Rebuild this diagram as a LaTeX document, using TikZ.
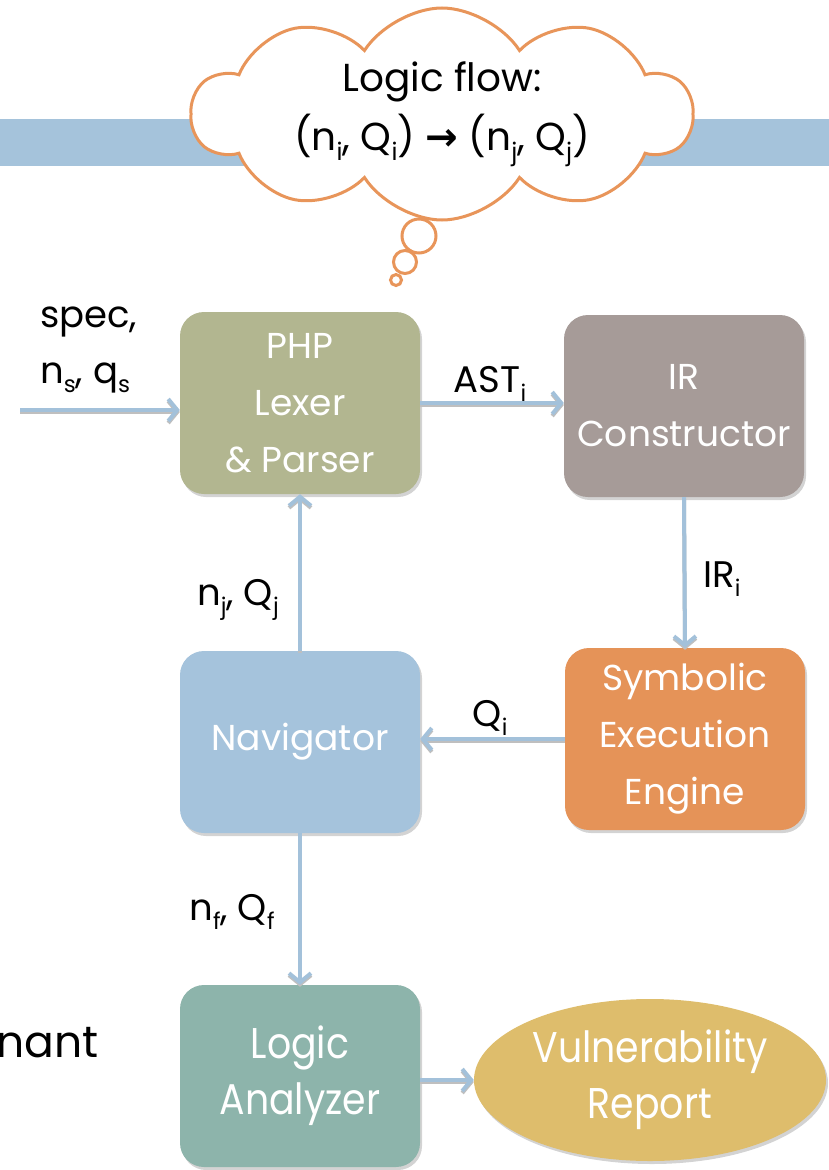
\documentclass[tikz,border=0pt]{standalone}
\usepackage{fontspec}
\setmainfont{Poppins}
\newfontfamily\narrowfont{Poppins}[FakeStretch=0.88]
\newfontfamily\symfont{DejaVu Sans}
\usetikzlibrary{arrows.meta,shapes.symbols,shapes.geometric,shadows}

\definecolor{bandblue}{HTML}{A5C3DB}
\definecolor{flowblue}{HTML}{A3C1DA}
\definecolor{lexolive}{HTML}{B2B690}
\definecolor{irgrey}{HTML}{A69B98}
\definecolor{symorange}{HTML}{E59358}
\definecolor{navblue}{HTML}{A5C3DC}
\definecolor{logicgreen}{HTML}{8DB4AB}
\definecolor{vulnyellow}{HTML}{DEBD6C}
\definecolor{cloudline}{HTML}{E8955A}

\providecommand{\FBbox}{\fontsize{36}{57}\selectfont}
\providecommand{\FBnarrow}{\fontsize{43}{56}\selectfont\narrowfont}
\providecommand{\FBlab}{\fontsize{37}{56}\selectfont}
\providecommand{\FBcloud}{\fontsize{39}{59}\selectfont}
\providecommand{\FBslide}{\fontsize{44}{50}\selectfont}
\providecommand{\low}[1]{\raisebox{-0.45ex}{\scalebox{0.62}{#1}}}

\tikzset{
  stage/.style={rectangle, rounded corners=24pt, draw=none, align=center,
                text=white, font=\FBbox, minimum width=240pt, minimum height=182pt,
                inner sep=2pt,
                drop shadow={opacity=0.35, shadow xshift=2pt, shadow yshift=-3pt}},
  report/.style={ellipse, draw=none, fill=vulnyellow, align=center,
                 text=white, font=\FBnarrow,
                 minimum width=352pt, minimum height=162pt, inner sep=0pt,
                 drop shadow={opacity=0.35, shadow xshift=2pt, shadow yshift=-3pt}},
  flow/.style={draw=flowblue, line width=4pt,
               -{Straight Barb[length=9pt,width=22pt]},
               preaction={draw=black!25, line width=4pt, transform canvas={yshift=-2pt}}},
  lab/.style={font=\FBlab, text=black, align=left, inner sep=0pt},
  thought/.style={circle, draw=cloudline, line width=3pt, fill=white, inner sep=0pt}
}

\begin{document}
\begin{tikzpicture}[x=1pt, y=-1pt]

\useasboundingbox (0,0) rectangle (829,1170);

% slide title band
\fill[bandblue] (0,119) rectangle (829,166);

\node (cloud) [cloud, cloud puffs=10, cloud puff arc=115, aspect=2.5,
      draw=cloudline, line width=3pt, fill=white,
      minimum width=500pt, minimum height=212pt, inner sep=0pt] at (442,114) {};
\node (flowtext) [align=center, font=\FBcloud, inner sep=0pt] at (cloud.center)
      {Logic flow:\\(n\low{i}, Q\low{i}) {\symfont\bfseries →} (n\low{j}, Q\low{j})};

\node (bubA) [thought, minimum size=34pt] at (419,236) {};
\node (bubB) [thought, minimum size=23pt] at (405,262) {};
\node (bubC) [thought, minimum size=11pt] at (396,280) {};

\node (lexer) [stage, fill=lexolive] at (300,403) {PHP\\Lexer\\\& Parser};
\node (irc) [stage, fill=irgrey] at (684,406) {IR\\Constructor};
\node (symex) [stage, fill=symorange] at (685,739) {Symbolic\\Execution\\Engine};
\node (nav) [stage, fill=navblue] at (300,742) {Navigator};
\node (logic) [stage, fill=logicgreen, font=\FBnarrow] at (300,1076) {Logic\\Analyzer};
\node (vuln) [report] at (650,1080) {Vulnerability\\Report};

\coordinate (start) at (20,410);

\node (slide) [font=\FBslide, anchor=east, inner sep=0pt] at (99,1043) {nant};

% input -> lexer
\draw[flow] (start) -- (lexer.west |- start);
\node (inlab) [lab, anchor=west] at (40,350)
      {spec,\\n\low{s}, q\low{s}};

% lexer -> IR -> symbolic execution
\draw[flow] (lexer.east) -- (irc.west |- lexer.east);
\node (astlab) [lab] at (490,384) {AST\low{i}};
\draw[flow] (irc.south) -- (symex.north);
\node (irlab) [lab] at (722,579) {IR\low{i}};

% symbolic execution -> navigator
\draw[flow] (symex.west) -- (nav.east |- symex.west);
\node (qlab) [lab] at (490,718) {Q\low{i}};

% navigator -> lexer, navigator -> analyzer
\draw[flow] (nav.north) -- (lexer.south);
\node (njlab) [lab] at (238,600) {n\low{j}, Q\low{j}};
\draw[flow] (nav.south) -- (logic.north);
\node (nflab) [lab] at (232,912) {n\low{f}, Q\low{f}};

% analyzer -> report
\draw[flow] (logic.east |- vuln.west) -- (vuln.west);

\end{tikzpicture}
\end{document}
